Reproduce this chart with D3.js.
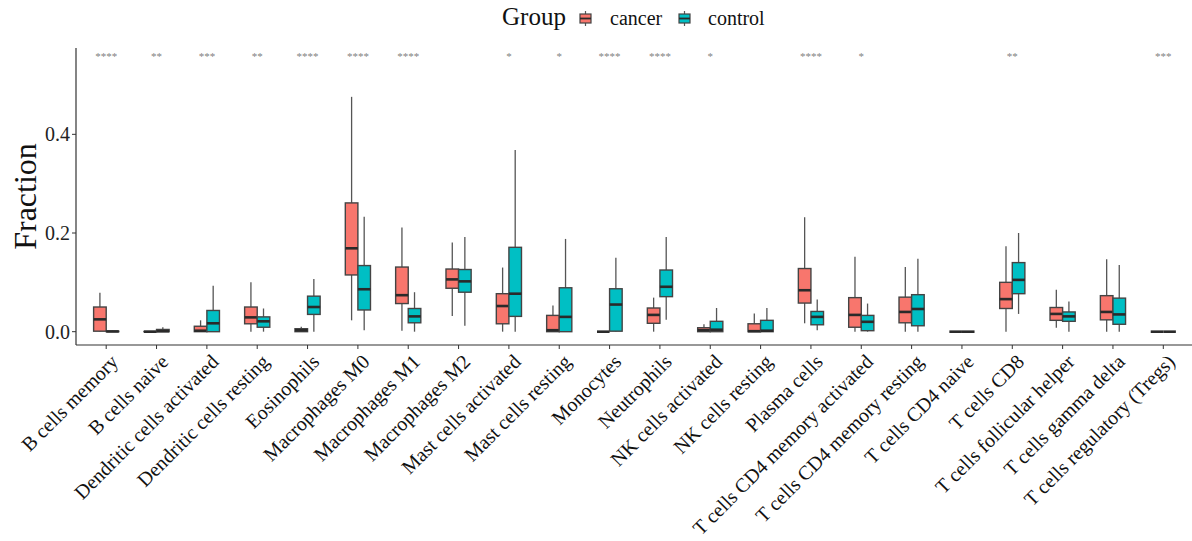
<!DOCTYPE html>
<html><head><meta charset="utf-8">
<script src="https://cdn.jsdelivr.net/npm/d3@7"></script>
<style>html,body{margin:0;padding:0;background:#fff;}svg{display:block;font-family:"Liberation Serif","Times New Roman",serif;}</style>
</head><body>
<svg id="c" width="1192" height="541"></svg>
<script>
const categories = ["B cells memory","B cells naive","Dendritic cells activated","Dendritic cells resting","Eosinophils","Macrophages M0","Macrophages M1","Macrophages M2","Mast cells activated","Mast cells resting","Monocytes","Neutrophils","NK cells activated","NK cells resting","Plasma cells","T cells CD4 memory activated","T cells CD4 memory resting","T cells CD4 naive","T cells CD8","T cells follicular helper","T cells gamma delta","T cells regulatory (Tregs)"];
const groups = ["cancer","control"];
// [lower whisker, q1, median, q3, upper whisker]
const cancerStats = [
  [0,0.001,0.025,0.050,0.079],
  [0,0,0,0.0005,0.001],
  [0,0,0.002,0.011,0.023],
  [0,0.016,0.029,0.050,0.100],
  [0,0,0.003,0.006,0.010],
  [0.023,0.115,0.169,0.261,0.476],
  [0.002,0.057,0.074,0.131,0.211],
  [0.032,0.088,0.106,0.127,0.181],
  [0,0.016,0.052,0.077,0.130],
  [0,0,0.003,0.033,0.053],
  [0,0,0,0,0.0005],
  [0,0.017,0.034,0.048,0.069],
  [0,0,0.003,0.008,0.015],
  [0,0,0.001,0.016,0.037],
  [0.017,0.058,0.084,0.128,0.232],
  [0,0.009,0.034,0.069,0.152],
  [0,0.018,0.040,0.070,0.131],
  [0,0,0,0,0],
  [0,0.047,0.066,0.100,0.173],
  [0.008,0.023,0.036,0.049,0.085],
  [0,0.024,0.040,0.073,0.147],
  [0,0,0,0,0]
];
const controlStats = [
  [0,0,0.0005,0.001,0.002],
  [0,0,0.001,0.0045,0.009],
  [0,0,0.017,0.043,0.093],
  [0,0.009,0.021,0.030,0.047],
  [0,0.035,0.050,0.072,0.107],
  [0.003,0.044,0.086,0.134,0.233],
  [0,0.018,0.031,0.047,0.080],
  [0.012,0.080,0.102,0.126,0.192],
  [0,0.031,0.077,0.171,0.368],
  [0,0,0.030,0.089,0.188],
  [0,0.001,0.055,0.087,0.150],
  [0.024,0.071,0.091,0.125,0.192],
  [0,0,0.004,0.021,0.048],
  [0,0,0.002,0.023,0.048],
  [0.003,0.014,0.030,0.041,0.065],
  [0,0.002,0.020,0.033,0.057],
  [0,0.012,0.046,0.075,0.148],
  [0,0,0,0,0],
  [0.036,0.077,0.105,0.140,0.200],
  [0,0.021,0.031,0.040,0.061],
  [0,0.015,0.035,0.068,0.135],
  [0,0,0,0,0]
];
const sigLabels = ["****","**","***","**","****","****","****","","*","*","****","****","*","","****","*","","","**","","","***"];
const yTicks = [0.0, 0.2, 0.4];
const colors = {cancer:"#F8766D", control:"#00BFC4"};

const svg = d3.select("#c");
const L = 76, R = 1193.5, T = 48, B = 345;
const x = d3.scalePoint().domain(categories).range([L, R]).padding(0.6);
const step = x.step();
const y = d3.scaleLinear().domain([-0.027, 0.575]).range([B, T]);
const bw = step * 0.25;

const g = svg.append("g");
const statsByGroup = {cancer: cancerStats, control: controlStats};
groups.forEach((grp, gi) => {
  const data = statsByGroup[grp].map((s, i) => ({cat: categories[i], s}));
  const off = (gi === 0 ? -0.5 : 0.5) * bw;
  const bg = g.append("g");
  const items = bg.selectAll("g").data(data).join("g");
  items.append("line").attr("x1", d => x(d.cat) + off).attr("x2", d => x(d.cat) + off)
    .attr("y1", d => y(d.s[3])).attr("y2", d => y(d.s[4])).attr("stroke", "#555").attr("stroke-width", 1.3);
  items.append("line").attr("x1", d => x(d.cat) + off).attr("x2", d => x(d.cat) + off)
    .attr("y1", d => y(d.s[1])).attr("y2", d => y(d.s[0])).attr("stroke", "#555").attr("stroke-width", 1.3);
  items.append("rect").attr("x", d => x(d.cat) + off - bw/2).attr("width", bw)
    .attr("y", d => y(d.s[3])).attr("height", d => Math.max(0, y(d.s[1]) - y(d.s[3])))
    .attr("fill", colors[grp]).attr("stroke", "#444").attr("stroke-width", 1.4);
  items.append("line").attr("x1", d => x(d.cat) + off - bw/2).attr("x2", d => x(d.cat) + off + bw/2)
    .attr("y1", d => y(d.s[2])).attr("y2", d => y(d.s[2])).attr("stroke", "#2a2a2a").attr("stroke-width", 2.6);
});

svg.append("g").selectAll("text").data(categories).join("text")
  .attr("x", d => x(d)).attr("y", 60).attr("text-anchor", "middle")
  .attr("font-size", 11).attr("fill", "#7f7f7f")
  .text((d, i) => sigLabels[i]);

svg.append("line").attr("x1", L).attr("x2", L).attr("y1", T).attr("y2", B).attr("stroke", "#333").attr("stroke-width", 1.2);
svg.append("line").attr("x1", L).attr("x2", R).attr("y1", B).attr("y2", B).attr("stroke", "#333").attr("stroke-width", 1.2);

const yt = svg.append("g").selectAll("g").data(yTicks).join("g");
yt.append("line").attr("x1", L - 4).attr("x2", L).attr("y1", d => y(d)).attr("y2", d => y(d)).attr("stroke", "#333");
yt.append("text").attr("x", L - 6).attr("y", d => y(d)).attr("dy", "0.35em").attr("text-anchor", "end")
  .attr("font-size", 20).attr("fill", "#222").text(d => d3.format(".1f")(d));

const xt = svg.append("g").selectAll("g").data(categories).join("g");
xt.append("line").attr("x1", d => x(d)).attr("x2", d => x(d)).attr("y1", B).attr("y2", B + 4).attr("stroke", "#333");
xt.append("text").attr("transform", d => `translate(${x(d) + 3},${B + 8}) rotate(-45)`)
  .attr("text-anchor", "end").attr("dy", "0.71em").attr("font-size", 20).attr("fill", "#111").text(d => d);

svg.append("text").attr("transform", `translate(36,${(T + B) / 2}) rotate(-90)`).attr("text-anchor", "middle")
  .attr("font-size", 32).attr("fill", "#111").text("Fraction");

const lg = svg.append("g");
lg.append("text").attr("x", 502).attr("y", 25).attr("font-size", 25).attr("fill", "#111").text("Group");
const legendItems = [{g: "cancer", kx: 580, tx: 610}, {g: "control", kx: 679, tx: 708}];
legendItems.forEach(it => {
  const cx = it.kx + 5.5;
  lg.append("line").attr("x1", cx).attr("x2", cx).attr("y1", 11).attr("y2", 26).attr("stroke", "#555").attr("stroke-width", 1.2);
  lg.append("rect").attr("x", it.kx).attr("y", 14).attr("width", 11).attr("height", 9)
    .attr("fill", colors[it.g]).attr("stroke", "#444").attr("stroke-width", 1.2);
  lg.append("line").attr("x1", it.kx).attr("x2", it.kx + 11).attr("y1", 18.5).attr("y2", 18.5).attr("stroke", "#2a2a2a").attr("stroke-width", 1.8);
  lg.append("text").attr("x", it.tx).attr("y", 25).attr("font-size", 20).attr("fill", "#111").text(it.g);
});
</script>
</body></html>
